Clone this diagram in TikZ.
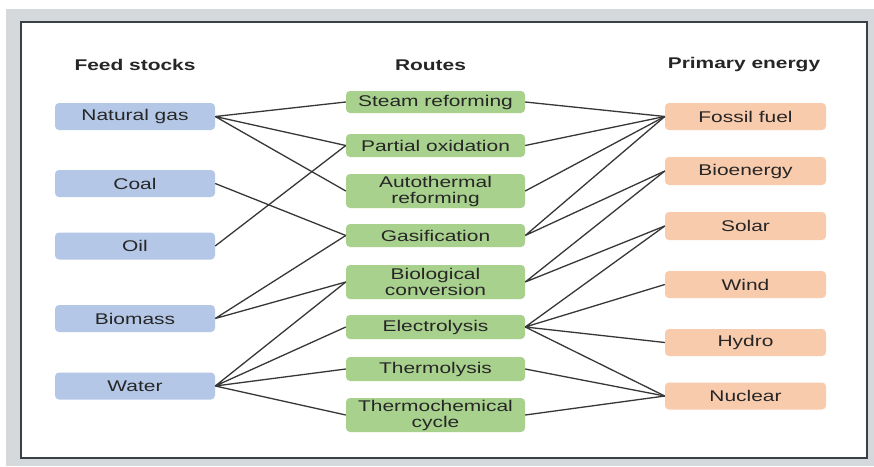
\documentclass[tikz,border=0pt]{standalone}
\usepackage{fontspec}
\setmainfont{Liberation Sans}[FakeStretch=1.35]
\usepackage{tikz}
\usetikzlibrary{positioning}
\definecolor{bluefs}{RGB}{180,199,231}
\definecolor{greenrt}{RGB}{169,209,142}
\definecolor{orangepe}{RGB}{248,203,173}
\definecolor{textgr}{RGB}{38,38,38}
\definecolor{linegr}{RGB}{55,55,55}
\definecolor{framegr}{RGB}{214,217,220}
\definecolor{edgegr}{RGB}{58,64,72}

\begin{document}
\begin{tikzpicture}[x=1pt, y=-1pt,
    box/.style={rounded corners=4pt, text=textgr, align=center, inner sep=0pt,
        font=\fontsize{15.5pt}{16pt}\selectfont},
    feed/.style={box, fill=bluefs, minimum width=160pt, minimum height=27pt},
    route/.style={box, fill=greenrt, minimum width=179pt, minimum height=23pt},
    prim/.style={box, fill=orangepe, minimum width=161pt, minimum height=27pt},
    head/.style={text=textgr, font=\fontsize{15.5pt}{16pt}\selectfont\bfseries},
    link/.style={draw=linegr, line width=1.3pt}]
    \useasboundingbox (0,0) rectangle (874,466);

    % Cadre
    \fill[white] (0,0) rectangle (874,466);
    \fill[framegr] (6,9) rectangle (874,466);
    \filldraw[fill=white, draw=edgegr, line width=1.6pt] (21,22) rectangle (867,458);

    % Titres
    \node[head] (hfeed) at (135,65) {Feed stocks};
    \node[head] (hroute) at (430.5,65) {Routes};
    \node[head] (hprim) at (744,65) {Primary energy};

    % Boxes
    \node[feed] (ng) at (135,116.5) {Natural gas};
    \node[feed] (coal) at (135,183.5) {Coal};
    \node[feed] (oil) at (135,246) {Oil};
    \node[feed] (bm) at (135,318.5) {Biomass};
    \node[feed] (water) at (135,386) {Water};

    \node[route, minimum height=22pt] (sr) at (435.5,102) {Steam reforming};
    \node[route] (po) at (435.5,145.5) {Partial oxidation};
    \node[route, minimum height=34pt] (atr) at (435.5,191) {Autothermal\\reforming};
    \node[route] (gas) at (435.5,235.5) {Gasification};
    \node[route, minimum height=34pt] (bio) at (435.5,282) {Biological\\conversion};
    \node[route, minimum height=24pt] (elec) at (435.5,327) {Electrolysis};
    \node[route, minimum height=24pt] (therm) at (435.5,369) {Thermolysis};
    \node[route, minimum height=34pt] (tc) at (435.5,415) {Thermochemical\\cycle};

    \node[prim] (fossil) at (745.5,116.5) {Fossil fuel};
    \node[prim, minimum height=28pt] (bioe) at (745.5,171) {Bioenergy};
    \node[prim, minimum height=28pt] (solar) at (745.5,226) {Solar};
    \node[prim] (wind) at (745.5,284.5) {Wind};
    \node[prim] (hydro) at (745.5,342.5) {Hydro};
    \node[prim] (nuc) at (745.5,396) {Nuclear};

    % Liens
    \draw[link] (ng.east) -- (sr.west) (ng.east) -- (po.west) (ng.east) -- (atr.west);
    \draw[link] (coal.east) -- (gas.west);
    \draw[link] (oil.east) -- (po.west);
    \draw[link] (bm.east) -- (gas.west) (bm.east) -- (bio.west);
    \draw[link] (water.east) -- (bio.west) (water.east) -- (elec.west)
        (water.east) -- (therm.west) (water.east) -- (tc.west);

    \draw[link] (sr.east) -- (fossil.west);
    \draw[link] (po.east) -- (fossil.west);
    \draw[link] (atr.east) -- (fossil.west);
    \draw[link] (gas.east) -- (fossil.west) (gas.east) -- (bioe.west);
    \draw[link] (bio.east) -- (bioe.west) (bio.east) -- (solar.west);
    \draw[link] (elec.east) -- (solar.west) (elec.east) -- (wind.west)
        (elec.east) -- (hydro.west) (elec.east) -- (nuc.west);
    \draw[link] (therm.east) -- (nuc.west);
    \draw[link] (tc.east) -- (nuc.west);
\end{tikzpicture}
\end{document}
